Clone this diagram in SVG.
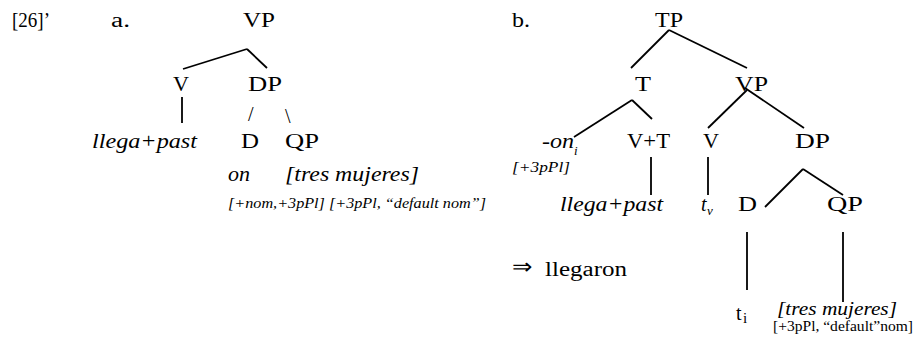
<svg xmlns="http://www.w3.org/2000/svg" width="918" height="345" viewBox="0 0 918 345">
<style>
text{font-family:"Liberation Serif","Times New Roman",serif;font-size:20px;fill:#000}
.it{font-style:italic}
.sm{font-size:14px}
.sub{font-size:13px}
#edges line{stroke:#000;stroke-width:1.8;stroke-linecap:butt}
</style>
<rect width="918" height="345" fill="#fff"/>
<g id="labels">
<text x="12" y="27" textLength="38" lengthAdjust="spacingAndGlyphs">[26]’</text>
<text x="111" y="27" textLength="19" lengthAdjust="spacingAndGlyphs">a.</text>
<text x="512" y="27" textLength="18" lengthAdjust="spacingAndGlyphs">b.</text>
</g>
<g id="edges">
<line x1="247" y1="49" x2="183" y2="69"/>
<line x1="247" y1="49" x2="267" y2="68"/>
<line x1="182" y1="97" x2="182" y2="123"/>
<line x1="669" y1="30" x2="631" y2="68"/>
<line x1="669" y1="30" x2="747" y2="68"/>
<line x1="632" y1="100" x2="574" y2="137"/>
<line x1="632" y1="100" x2="652" y2="119"/>
<line x1="747" y1="90" x2="708" y2="128"/>
<line x1="745" y1="88" x2="804" y2="128"/>
<line x1="651" y1="157" x2="651" y2="195"/>
<line x1="708" y1="157" x2="708" y2="195"/>
<line x1="803" y1="169" x2="765" y2="207"/>
<line x1="803" y1="169" x2="843" y2="195"/>
<line x1="747" y1="232" x2="747" y2="290"/>
<line x1="843" y1="232" x2="843" y2="302"/>
</g>
<g id="a-VP"><text x="243" y="27" textLength="32" lengthAdjust="spacingAndGlyphs">VP</text></g>
<g id="a-V"><text x="173" y="91" textLength="16" lengthAdjust="spacingAndGlyphs">V</text></g>
<g id="a-DP"><text x="248" y="91" textLength="34" lengthAdjust="spacingAndGlyphs">DP</text>
<text x="248" y="121">/</text><text x="285" y="123">\</text></g>
<g id="a-llega"><text class="it" x="92" y="148" textLength="105" lengthAdjust="spacingAndGlyphs">llega+past</text></g>
<g id="a-D"><text x="241" y="148" textLength="18" lengthAdjust="spacingAndGlyphs">D</text>
<text class="it" x="228" y="181" textLength="22" lengthAdjust="spacingAndGlyphs">on</text></g>
<g id="a-QP"><text x="285" y="148" textLength="34" lengthAdjust="spacingAndGlyphs">QP</text>
<text class="it" x="285" y="181" textLength="134" lengthAdjust="spacingAndGlyphs">[tres mujeres]</text></g>
<g id="a-features"><text class="it sm" x="228" y="208" textLength="258" lengthAdjust="spacingAndGlyphs">[+nom,+3pPl] [+3pPl, “default nom”]</text></g>
<g id="b-TP"><text x="655" y="27" textLength="28" lengthAdjust="spacingAndGlyphs">TP</text></g>
<g id="b-T"><text x="635" y="91" textLength="16" lengthAdjust="spacingAndGlyphs">T</text></g>
<g id="b-VP"><text x="735" y="91" textLength="33" lengthAdjust="spacingAndGlyphs">VP</text></g>
<g id="b-on"><text class="it" x="542" y="148" textLength="32" lengthAdjust="spacingAndGlyphs">-on</text><text class="it sub" x="574" y="155">i</text>
<text class="it sm" x="512" y="172" textLength="58" lengthAdjust="spacingAndGlyphs">[+3pPl]</text></g>
<g id="b-VT"><text x="627" y="148" textLength="43" lengthAdjust="spacingAndGlyphs">V+T</text>
<text class="it" x="560" y="211" textLength="103" lengthAdjust="spacingAndGlyphs">llega+past</text></g>
<g id="b-V"><text x="703" y="148" textLength="16" lengthAdjust="spacingAndGlyphs">V</text>
<text class="it" x="701" y="211">t</text><text class="it sub" x="707" y="215">v</text></g>
<g id="b-DP"><text x="795" y="148" textLength="35" lengthAdjust="spacingAndGlyphs">DP</text></g>
<g id="b-D"><text x="738" y="211" textLength="19" lengthAdjust="spacingAndGlyphs">D</text>
<text x="736" y="320">t</text><text x="743" y="323" style="font-size:15px">i</text></g>
<g id="b-QP"><text x="827" y="211" textLength="36" lengthAdjust="spacingAndGlyphs">QP</text>
<text class="it" x="777" y="315" style="font-size:18px" textLength="120" lengthAdjust="spacingAndGlyphs">[tres mujeres]</text>
<text class="sm" x="773" y="331" textLength="140" lengthAdjust="spacingAndGlyphs">[+3pPl, “default”nom]</text></g>
<g id="b-result"><text x="512" y="274" style="font-size:22px" textLength="20" lengthAdjust="spacingAndGlyphs">⇒</text><text x="545" y="276" textLength="82" lengthAdjust="spacingAndGlyphs">llegaron</text></g>
</svg>
